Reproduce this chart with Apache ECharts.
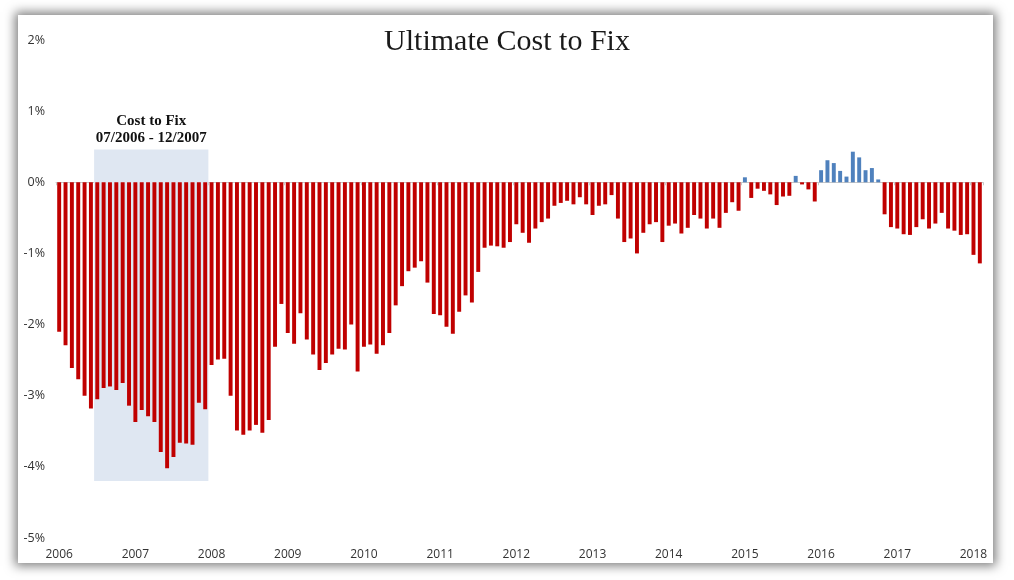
<!DOCTYPE html>
<html>
<head>
<meta charset="utf-8">
<script src="https://cdn.jsdelivr.net/npm/echarts@6/dist/echarts.min.js"></script>
<style>
  html, body { margin: 0; padding: 0; background: #ffffff; }
  #panel { position: absolute; left: 18px; top: 15px; width: 975px; height: 548px; background: #ffffff;
           box-shadow: 0 0 10px 3px rgba(0,0,0,0.5); }
  #chart { position: absolute; left: 0; top: 0; width: 1014px; height: 580px; }
</style>
</head>
<body>
<div id="panel"></div>
<div id="chart"></div>
<script>
// Monthly values (%), Jan 2006 .. Feb 2018
const firstYear = 2006;
const values = [
  -2.10, -2.29, -2.61, -2.77, -3.00, -3.18, -3.05, -2.89, -2.87, -2.92, -2.82, -3.14,  // 2006
  -3.37, -3.20, -3.29, -3.37, -3.79, -4.02, -3.86, -3.66, -3.67, -3.69, -3.10, -3.19,  // 2007
  -2.57, -2.49, -2.48, -3.00, -3.49, -3.55, -3.49, -3.41, -3.52, -3.34, -2.31, -1.71,  // 2008
  -2.12, -2.27, -1.84, -2.21, -2.42, -2.64, -2.54, -2.42, -2.34, -2.35, -2.00, -2.66,  // 2009
  -2.31, -2.28, -2.41, -2.29, -2.12, -1.73, -1.46, -1.25, -1.20, -1.11, -1.41, -1.85,  // 2010
  -1.87, -2.03, -2.13, -1.82, -1.59, -1.69, -1.26, -0.92, -0.89, -0.90, -0.92, -0.84,  // 2011
  -0.59, -0.71, -0.85, -0.65, -0.56, -0.51, -0.33, -0.29, -0.26, -0.31, -0.21, -0.31,  // 2012
  -0.46, -0.33, -0.31, -0.18, -0.51, -0.84, -0.79, -1.00, -0.71, -0.59, -0.56, -0.84,  // 2013
  -0.61, -0.58, -0.72, -0.64, -0.46, -0.51, -0.65, -0.51, -0.64, -0.43, -0.28, -0.40,  // 2014
   0.07, -0.22, -0.09, -0.12, -0.17, -0.32, -0.20, -0.19,  0.09, -0.03, -0.10, -0.27,  // 2015
   0.17,  0.31,  0.27,  0.16,  0.08,  0.43,  0.35,  0.17,  0.20,  0.04, -0.45, -0.63,  // 2016
  -0.65, -0.73, -0.74, -0.63, -0.52, -0.65, -0.58, -0.43, -0.65, -0.68, -0.74, -0.73,  // 2017
  -1.02, -1.14                                                                          // 2018
];
const yTicks = [-5, -4, -3, -2, -1, 0, 1, 2];
const highlight = { from: '2006-07', to: '2007-12', top: 0.46, bottom: -4.2,
                    label: ['Cost to Fix', '07/2006 - 12/2007'] };
const titleText = 'Ultimate Cost to Fix';

const categories = values.map((v, i) => {
  const y = firstYear + Math.floor(i / 12);
  const m = (i % 12) + 1;
  return y + '-' + (m < 10 ? '0' + m : m);
});

const RED = '#C00000', BLUE = '#4F81BD';
const chart = echarts.init(document.getElementById('chart'));
chart.setOption({
  animation: false,
  title: {
    text: titleText, left: 'center', top: 22,
    textStyle: { fontFamily: 'Liberation Serif', fontSize: 30, fontWeight: 'normal', color: '#1a1a1a' }
  },
  grid: { left: 56, right: 31, top: 40, bottom: 42 },
  xAxis: [
    {
      type: 'category', data: categories, position: 'bottom',
      axisLine: { show: false, onZero: false }, axisTick: { show: false },
      axisLabel: {
        interval: (i) => i % 12 === 0,
        formatter: (v) => v.slice(0, 4),
        margin: 11, color: '#333333', fontFamily: 'Open Sans', fontSize: 12
      },
      splitLine: { show: false }
    },
    {
      type: 'category', data: categories, position: 'bottom', gridIndex: 0,
      axisLine: { show: true, onZero: true, lineStyle: { color: '#C8C8C8', width: 1 } },
      axisTick: { show: true, interval: (i) => i % 12 === 0, length: 3, lineStyle: { color: '#C8C8C8' } },
      axisLabel: { show: false },
      splitLine: { show: false }
    }
  ],
  yAxis: {
    type: 'value', min: yTicks[0], max: yTicks[yTicks.length - 1], interval: 1,
    axisLine: { show: false }, axisTick: { show: false }, splitLine: { show: false },
    axisLabel: { formatter: (v) => v + '%', margin: 11, color: '#333333', fontFamily: 'Open Sans', fontSize: 12.5 }
  },
  series: [{
    type: 'bar', xAxisIndex: 0,
    data: values.map(v => ({ value: v, itemStyle: { color: v >= 0 ? BLUE : RED } })),
    barCategoryGap: '38%',
    markArea: {
      silent: true,
      itemStyle: { color: '#DFE7F2' },
      label: {
        show: true, position: 'top', distance: 3,
        formatter: highlight.label.join('\n'),
        fontFamily: 'Liberation Serif', fontWeight: 'bold', fontSize: 15, lineHeight: 17, color: '#111'
      },
      data: [[
        { xAxis: highlight.from, yAxis: highlight.top },
        { xAxis: highlight.to, yAxis: highlight.bottom }
      ]]
    }
  }]
});
</script>
</body>
</html>
